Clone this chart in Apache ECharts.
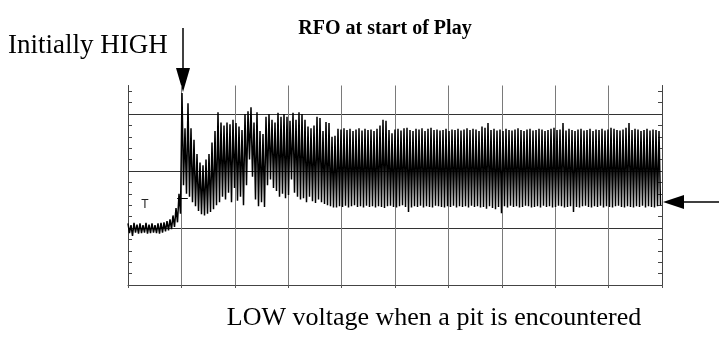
<!DOCTYPE html>
<html>
<head>
<meta charset="utf-8">
<script src="https://cdn.jsdelivr.net/npm/echarts@6/dist/echarts.min.js"></script>
<style>
  html, body { margin: 0; padding: 0; background: #fff; }
  #main { width: 719px; height: 342px; }
</style>
</head>
<body>
<div id="main"></div>
<script>
// scope trace, values in screen divisions (0 = bottom line), one high + one low per cycle
var baseHigh = [1.08,1.05,1.09,1.06,1.08,1.05,1.09,1.06,1.08,1.05,1.08,1.09,1.10,1.12,1.15,1.22,1.35,1.60];
var baseLow  = [0.91,0.86,0.92,0.90,0.91,0.92,0.90,0.91,0.92,0.91,0.90,0.92,0.94,0.96,0.98,1.02,1.10,1.25];

var burstHigh = [3.37,2.75,3.19,2.75,2.55,2.30,2.15,2.10,2.20,2.30,2.50,2.70,3.03,2.85,2.80,2.85,2.82,2.90,2.84,
  2.78,2.72,3.00,3.05,3.12,2.85,3.03,2.70,
  2.65,2.95,3.00,2.90,2.85,3.02,2.95,3.00,
  2.95,2.88,3.02,2.90,3.03,3.00,2.90,2.78,
  2.75,2.80,2.95,2.93,2.70,2.86,2.84,2.60];
var burstLow = [1.75,1.60,1.55,1.45,1.38,1.30,1.24,1.22,1.25,1.28,1.33,1.40,1.45,1.55,1.50,1.62,1.45,1.70,1.48,
  1.55,1.40,1.75,2.20,1.90,1.50,1.38,1.45,
  1.37,1.75,1.85,1.70,1.65,1.55,1.60,1.52,
  1.58,1.85,1.62,1.55,1.50,1.52,1.45,1.55,
  1.47,1.44,1.50,1.45,1.42,1.40,1.38,1.36];

var steadyHigh = [2.62,2.74,2.73,2.75,2.72,2.74,2.70,2.73,2.75,2.71,
  2.74,2.72,2.73,2.70,2.74,2.80,2.90,2.88,2.72,2.66,
  2.73,2.74,2.71,2.75,2.76,2.72,2.70,2.74,2.73,2.75,
  2.70,2.74,2.76,2.72,2.73,2.71,2.72,2.74,2.70,2.73,
  2.72,2.74,2.71,2.73,2.75,2.72,2.74,2.73,2.70,2.78,
  2.76,2.84,2.72,2.74,2.71,2.73,2.70,2.74,2.72,2.71,
  2.73,2.75,2.72,2.70,2.73,2.74,2.71,2.72,2.74,2.73,
  2.70,2.72,2.74,2.76,2.72,2.73,2.84,2.71,2.74,2.72,
  2.70,2.73,2.74,2.71,2.72,2.74,2.70,2.73,2.72,2.74,
  2.71,2.73,2.76,2.74,2.72,2.71,2.73,2.76,2.84,2.72,
  2.74,2.73,2.70,2.72,2.74,2.71,2.73,2.72,2.70];
var steadyLow = [1.36,1.38,1.37,1.39,1.36,1.38,1.40,1.37,1.38,1.36,
  1.39,1.37,1.38,1.36,1.38,1.37,1.35,1.38,1.39,1.37,
  1.36,1.38,1.40,1.37,1.28,1.36,1.38,1.37,1.39,1.36,
  1.38,1.37,1.36,1.39,1.38,1.37,1.36,1.38,1.37,1.39,
  1.36,1.38,1.37,1.38,1.36,1.39,1.37,1.38,1.36,1.37,
  1.34,1.38,1.35,1.33,1.37,1.26,1.38,1.36,1.39,1.37,
  1.38,1.36,1.37,1.39,1.38,1.36,1.37,1.38,1.36,1.39,
  1.37,1.38,1.36,1.37,1.39,1.38,1.36,1.37,1.38,1.28,
  1.37,1.36,1.38,1.39,1.37,1.36,1.38,1.37,1.39,1.36,
  1.38,1.37,1.36,1.38,1.39,1.37,1.36,1.38,1.37,1.36,
  1.38,1.37,1.39,1.36,1.38,1.37,1.36,1.38,1.40];

var triggerLevel = 1.53;
var xDivs = 10;
var yDivs = 3.5;

var highs = baseHigh.concat(burstHigh, steadyHigh);
var lows = baseLow.concat(burstLow, steadyLow);
var step = xDivs / highs.length;

var trace = [];
for (var i = 0; i < highs.length; i++) {
  trace.push([i * step, highs[i]]);
  trace.push([(i + 0.5) * step, lows[i]]);
}

var serif = '"Liberation Serif", "Times New Roman", serif';

var chart = echarts.init(document.getElementById('main'), null, { renderer: 'canvas' });

chart.setOption({
  animation: false,
  backgroundColor: '#fff',
  grid: { left: 128, right: 57, top: 85.5, bottom: 57, containLabel: false },
  xAxis: {
    type: 'value', min: 0, max: xDivs, interval: 1,
    axisLine: { show: true, onZero: false, lineStyle: { color: '#444', width: 1 } },
    axisTick: { show: true, length: 3, lineStyle: { color: '#555' } },
    axisLabel: { show: false },
    splitLine: { show: true, lineStyle: { color: '#7a7a7a', width: 1 } }
  },
  yAxis: [
    {
      type: 'value', min: 0, max: yDivs, interval: 1, position: 'left',
      axisLine: { show: true, lineStyle: { color: '#444' } },
      axisTick: { show: false, inside: true },
      minorTick: { show: true, splitNumber: 5, length: 4, lineStyle: { color: '#444' } },
      axisLabel: { show: false },
      splitLine: { show: true, showMinLine: false, showMaxLine: false, lineStyle: { color: '#333', width: 1 } }
    },
    {
      type: 'value', min: 0, max: yDivs, interval: 1, position: 'right',
      axisLine: { show: true, lineStyle: { color: '#444' } },
      axisTick: { show: false, inside: true },
      minorTick: { show: true, splitNumber: 5, length: 4, lineStyle: { color: '#444' } },
      axisLabel: { show: false },
      splitLine: { show: false }
    }
  ],
  series: [{
    type: 'line',
    data: trace,
    showSymbol: false,
    sampling: false,
    lineStyle: { color: '#000', width: 1.5 },
    markLine: {
      silent: true,
      symbol: 'none',
      label: { show: false },
      lineStyle: { color: '#000', type: 'solid', width: 1 },
      data: [[{ coord: [0.92, triggerLevel] }, { coord: [1.12, triggerLevel] }]]
    }
  }],
  graphic: [
    { type: 'text', style: { text: 'RFO at start of Play', x: 385, y: 29, textAlign: 'center', textVerticalAlign: 'middle', font: 'bold 20px ' + serif, fill: '#000' } },
    { type: 'text', style: { text: 'Initially HIGH', x: 8, y: 46, textAlign: 'left', textVerticalAlign: 'middle', font: '27px ' + serif, fill: '#000' } },
    { type: 'text', style: { text: 'LOW voltage when a pit is encountered', x: 434, y: 318, textAlign: 'center', textVerticalAlign: 'middle', font: '26px ' + serif, fill: '#000' } },
    { type: 'text', style: { text: 'T', x: 145, y: 205, textAlign: 'center', textVerticalAlign: 'middle', font: '12px "Liberation Sans", sans-serif', fill: '#222' } },
    // arrow down to the first peak
    { type: 'line', shape: { x1: 183, y1: 28, x2: 183, y2: 70 }, style: { stroke: '#000', lineWidth: 1.5 } },
    { type: 'polygon', shape: { points: [[176, 68], [190, 68], [183, 92]] }, style: { fill: '#000' } },
    // arrow from the right to the low level
    { type: 'line', shape: { x1: 719, y1: 202, x2: 682, y2: 202 }, style: { stroke: '#000', lineWidth: 1.5 } },
    { type: 'polygon', shape: { points: [[684, 195], [684, 209], [663, 202]] }, style: { fill: '#000' } }
  ]
});
</script>
</body>
</html>
